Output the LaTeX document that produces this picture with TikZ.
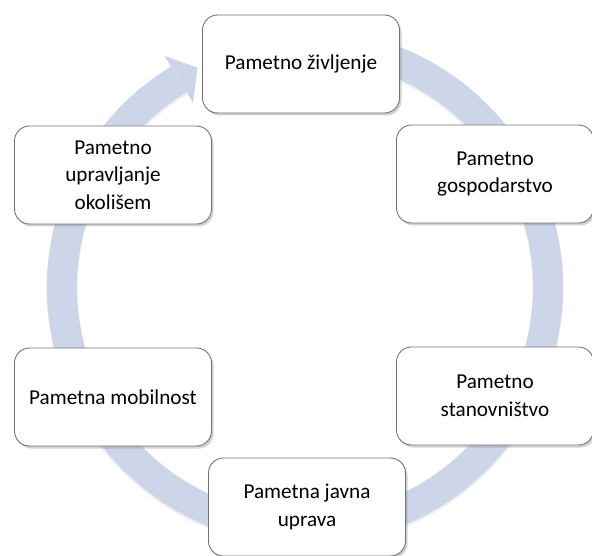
\documentclass[tikz,border=0pt]{standalone}
\usepackage{fontspec}
\setmainfont{Carlito}
\usetikzlibrary{shadows}
\definecolor{ringc}{RGB}{205,213,232}
\definecolor{boxline}{RGB}{115,115,115}
\begin{document}
\begin{tikzpicture}[x=1pt,y=-1pt,
  cbox/.style={draw=boxline, line width=0.9pt, fill=white, rounded corners=15pt,
    minimum width=197pt, minimum height=98pt, align=center, inner sep=0pt,
    font=\fontsize{21.2}{27.5}\selectfont,
    drop shadow={opacity=0.35, shadow xshift=2pt, shadow yshift=-2.5pt}},
  ringline/.style={ringc, line width=30pt},
  ringshade/.style={black!40, opacity=0.15, line width=31pt}]
\useasboundingbox (0,0) rectangle (592,556);
% ring with arrowhead
\begin{scope}[shift={(305,289)}, yscale=-1]
  \draw[ringshade] (80:243) arc[start angle=80, end angle=-238.7, radius=243];
\end{scope}
\begin{scope}[shift={(305,287)}, yscale=-1]
  \draw[ringline] (80:243) arc[start angle=80, end angle=-238.7, radius=243];
  \fill[ringc] (121.3:215.5) -- (116.1:244.4) -- (121.3:270.5) -- cycle;
\end{scope}
% boxes
\node[cbox] (life) at (301,64) {Pametno življenje};
\node[cbox] (econ) at (495,174) {Pametno\\gospodarstvo};
\node[cbox] (people) at (495,396) {Pametno\\stanovništvo};
\node[cbox] (gov) at (307,507) {Pametna javna\\uprava};
\node[cbox] (mob) at (113,397) {Pametna mobilnost};
\node[cbox] (env) at (113,175) {Pametno\\upravljanje\\okolišem};
\end{tikzpicture}
\end{document}
